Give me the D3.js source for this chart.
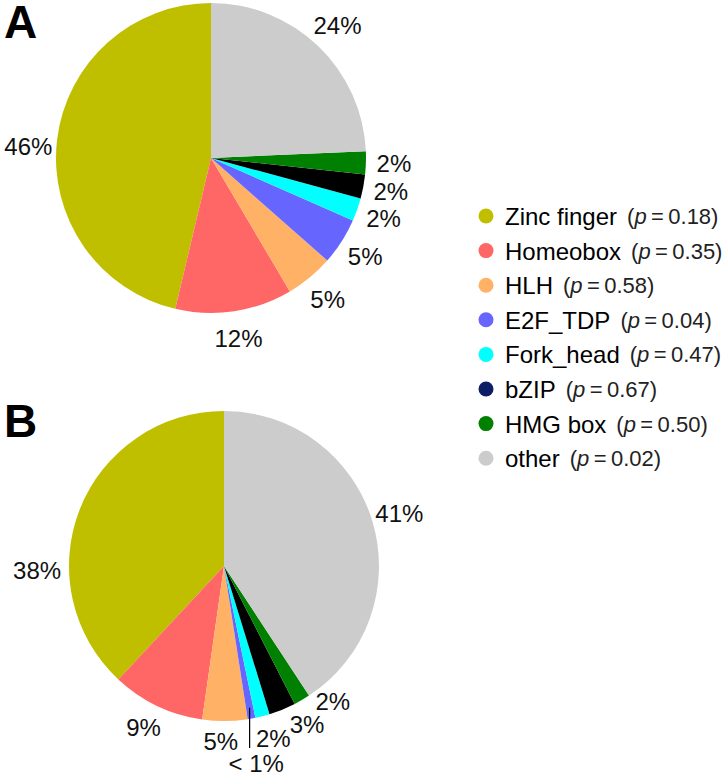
<!DOCTYPE html>
<html>
<head>
<meta charset="utf-8">
<script src="https://d3js.org/d3.v7.min.js"></script>
<style>
body { margin: 0; background: #fff; }
svg { display: block; font-family: "Liberation Sans", Arial, sans-serif; }
.pct { font-size: 24px; fill: #111; text-anchor: middle; dominant-baseline: central; }
.panel { font-size: 46px; font-weight: bold; fill: #000; }
.name { font-size: 24px; fill: #000; dominant-baseline: central; }
.pval { font-size: 22px; fill: #222; }
</style>
</head>
<body>
<div id="chart"></div>
<script>

var width = 722;
var height = 776;

// families, in legend order (pie runs counter-clockwise from 12 o'clock)
var families = ["Zinc finger", "Homeobox", "HLH", "E2F_TDP", "Fork_head", "bZIP", "HMG box", "other"];
var pValues = ["0.18", "0.35", "0.58", "0.04", "0.47", "0.67", "0.50", "0.02"];
var sliceColors = ["#bfbf00", "#ff6666", "#ffb266", "#6666ff", "#00ffff", "#000000", "#008000", "#cccccc"];
var legendColors = ["#bfbf00", "#ff6666", "#ffb266", "#6666ff", "#00ffff", "#0c1f66", "#008000", "#cccccc"];

// panel A
var valuesA = [46.3, 12.2, 5.0, 4.9, 2.4, 2.5, 2.4, 24.3];
var labelsA = ["46%", "12%", "5%", "5%", "2%", "2%", "2%", "24%"];

// panel B
var valuesB = [38.1, 9.7, 4.7, 0.8, 1.5, 2.8, 1.7, 40.8];
var labelsB = ["38%", "9%", "5%", "< 1%", "2%", "3%", "2%", "41%"];

var svg = d3.select("#chart").append("svg")
  .attr("width", width).attr("height", height);

var radius = 155;

var pie = d3.pie().sort(null).startAngle(0).endAngle(-2 * Math.PI);
var arc = d3.arc().innerRadius(0).outerRadius(radius);

function drawPie(cx, cy, values, labels, letter, letterY, shift, extra) {
  var g = svg.append("g").attr("transform", "translate(" + cx + "," + cy + ")");
  var arcs = pie(values);

  g.selectAll("path").data(arcs).enter().append("path")
    .attr("d", arc)
    .style("fill", function (d, i) { return sliceColors[i]; });

  // label sits out past the rim at the middle of its slice (nudged where crowded)
  g.selectAll("text").data(arcs).enter().append("text")
    .attr("class", "pct")
    .attr("transform", function (d, i) {
      var a = (d.startAngle + d.endAngle) / 2 + (shift[i] || 0) * Math.PI / 180;
      var r = 183 + (extra[i] || 0);
      return "translate(" + (r * Math.sin(a)) + "," + (-r * Math.cos(a)) + ")";
    })
    .text(function (d, i) { return labels[i]; });

  svg.append("text").attr("class", "panel")
    .attr("x", 4).attr("y", letterY).text(letter);

  return arcs;
}

drawPie(211, 158, valuesA, labelsA, "A", 38, [-3], []);
var arcsB = drawPie(224, 566, valuesB, labelsB, "B", 437,
  [-23, 1, 1.4, 1, -1.6, -5.5, -8.5], [4, -3, -7, 17, -4, -4, -9]);

// leader for the tiny E2F_TDP slice in B
var tiny = arcsB[3];
var ta = (tiny.startAngle + tiny.endAngle) / 2;
var tx = 224 + 144 * Math.sin(ta);
svg.append("line")
  .attr("x1", tx).attr("x2", tx)
  .attr("y1", 566 - 144 * Math.cos(ta))
  .attr("y2", 748)
  .style("stroke", "#000").style("stroke-width", 1.2);

// legend
var legend = svg.append("g").attr("transform", "translate(486,216)");
var rows = legend.selectAll("g").data(families).enter().append("g")
  .attr("transform", function (d, i) { return "translate(0," + (i * 34.6) + ")"; });

rows.append("circle").attr("r", 7.5)
  .style("fill", function (d, i) { return legendColors[i]; });

var t = rows.append("text").attr("class", "name").attr("x", 19);
t.append("tspan").text(function (d) { return d; });
t.append("tspan").attr("class", "pval").attr("dx", 10).text("(");
t.append("tspan").attr("class", "pval").style("font-style", "italic").text("p");
t.append("tspan").attr("class", "pval").text(function (d, i) { return "\u2009=\u2009" + pValues[i] + ")"; });

</script>
</body>
</html>
